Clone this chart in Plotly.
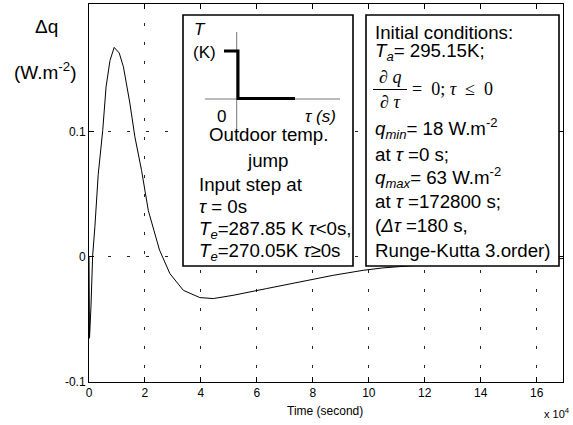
import plotly.graph_objects as go

# ---- data (time in seconds, delta q in W/m^2) ----
time_s = [0, 180, 700, 1300, 2100, 3300, 4900, 6100, 7500, 9000, 10800, 12300,
          14600, 16400, 18800, 21200, 25200, 28900, 33700, 39600, 44400, 51500,
          63500, 75400, 87300, 98000, 105000, 120000, 140000, 160000, 169400]
delta_q = [0.0, -0.065, -0.040, 0.0008, 0.024, 0.066, 0.101, 0.136, 0.157, 0.1675,
           0.163, 0.152, 0.123, 0.096, 0.069, 0.037, 0.0055, -0.0133, -0.0267,
           -0.0325, -0.0333, -0.0307, -0.0253, -0.020, -0.0147, -0.0107, -0.0088,
           -0.0062, -0.0040, -0.0022, -0.0013]
x_tick_vals = [0, 20000, 40000, 60000, 80000, 100000, 120000, 140000, 160000]
x_tick_text = ["0", "2", "4", "6", "8", "10", "12", "14", "16"]
y_tick_vals = [-0.1, 0, 0.1]
y_tick_text = ["-0.1", "0", "0.1"]

W, H = 573, 425
L, R, T, B = 89, 10, 4, 43
PW, PH = W - L - R, H - T - B


def P(px, py):
    return (px - L) / PW, (H - B - py) / PH


FONT = "Liberation Sans, Arial, sans-serif"
SERIF = "Liberation Serif, Times New Roman, serif"
TS = 18.7

fig = go.Figure()
fig.add_trace(go.Scatter(x=time_s, y=delta_q, mode="lines",
                         line=dict(color="black", width=1), hoverinfo="skip",
                         showlegend=False))

grid = dict(showgrid=True, gridcolor="#222222", gridwidth=1, griddash="3px,16px")
fig.update_xaxes(range=[0, 169400], tickvals=x_tick_vals, ticktext=x_tick_text,
                 ticks="inside", ticklen=5, tickcolor="black", showline=True,
                 linecolor="black", linewidth=1, mirror="allticks", zeroline=False,
                 tickfont=dict(family=FONT, size=12, color="black"), **grid)
fig.update_yaxes(range=[-0.1, 0.2022], tickvals=y_tick_vals, ticktext=y_tick_text,
                 ticks="inside", ticklen=5, tickcolor="black", showline=True,
                 linecolor="black", linewidth=1, mirror="allticks", zeroline=False,
                 tickfont=dict(family=FONT, size=12, color="black"), **grid)

shapes = []
# inset boxes
for (x0, y0, x1, y1) in [(183, 15, 353, 266), (366, 15, 559, 266)]:
    a0, b0 = P(x0, y0)
    a1, b1 = P(x1, y1)
    shapes.append(dict(type="rect", xref="paper", yref="paper", x0=a0, y0=b0,
                       x1=a1, y1=b1, fillcolor="white",
                       line=dict(color="black", width=1.6), layer="above"))
# small step diagram axes
for (x0, y0, x1, y1) in [(236.7, 32, 236.7, 130), (205, 99, 340, 99)]:
    a0, b0 = P(x0, y0)
    a1, b1 = P(x1, y1)
    shapes.append(dict(type="line", xref="paper", yref="paper", x0=a0, y0=b0,
                       x1=a1, y1=b1, line=dict(color="#777777", width=1),
                       layer="above"))
# thick step
pts = [P(224, 51), P(238, 51), P(238, 98.5), P(295, 98.5)]
path = "M " + " L ".join(f"{a},{b}" for a, b in pts)
shapes.append(dict(type="path", xref="paper", yref="paper", path=path,
                   line=dict(color="black", width=3), layer="above"))
# fraction bar
a0, b0 = P(373, 89.5)
a1, b1 = P(407, 89.5)
shapes.append(dict(type="line", xref="paper", yref="paper", x0=a0, y0=b0,
                   x1=a1, y1=b1, line=dict(color="black", width=1), layer="above"))

annotations = []


def add_text(text, px, py, size=TS, anchor="left", family=FONT):
    a, b = P(px, py)
    annotations.append(dict(text=text, x=a, y=b, xref="paper", yref="paper",
                            xanchor=anchor, yanchor="middle", showarrow=False,
                            font=dict(family=family, size=size, color="black")))


# y-axis label
add_text("Δq", 46, 26, size=19, anchor="center")
add_text("(W.m<sup>-2</sup>)", 45, 71, size=19, anchor="center")
# x-axis label & multiplier
add_text("Time (second)", 325, 411, size=12, anchor="center")
add_text("x 10<sup>4</sup>", 557, 413, size=11, anchor="center")

# inset 1
add_text("<i>T</i>", 192, 29, size=17)
add_text("(K)", 191, 52, size=17)
add_text("0", 221, 116, size=17, anchor="center")
add_text("<i>τ (s)</i>", 303, 116, size=17)
add_text("Outdoor temp.", 268, 134, anchor="center")
add_text("jump", 268, 160, anchor="center")
add_text("Input step at", 197, 184)
add_text("<i>τ</i> = 0s", 197, 206)
add_text("<i>T<sub>e</sub></i>=287.85 K <i>τ</i>&lt;0s,", 197, 230)
add_text("<i>T<sub>e</sub></i>=270.05K <i>τ</i>≥0s", 197, 252)

# inset 2
add_text("Initial conditions:", 373, 32)
add_text("<i>T<sub>a</sub></i>= 295.15K;", 373, 52)
add_text("<i>∂ q</i>", 390, 77, size=18, anchor="center", family=SERIF)
add_text("<i>∂ τ</i>", 390, 102, size=18, anchor="center", family=SERIF)
add_text("=  0; <i>τ</i>  ≤  0", 410, 89, size=18, family=SERIF)
add_text("<i>q<sub>min</sub></i>= 18 W.m<sup>-2</sup>", 373, 128)
add_text("at <i>τ</i> =0 s;", 373, 154)
add_text("<i>q<sub>max</sub></i>= 63 W.m<sup>-2</sup>", 373, 177)
add_text("at <i>τ</i> =172800 s;", 373, 201)
add_text("(<i>Δτ</i> =180 s,", 373, 225)
add_text("Runge-Kutta 3.order)", 373, 250)

fig.update_layout(width=W, height=H, margin=dict(l=L, r=R, t=T, b=B),
                  paper_bgcolor="white", plot_bgcolor="white",
                  shapes=shapes, annotations=annotations,
                  font=dict(family=FONT, color="black"), showlegend=False)

fig.write_html("out.html", config={"displayModeBar": False},
               post_script="document.body.style.margin='0';"
                           "document.body.style.padding='0';")
